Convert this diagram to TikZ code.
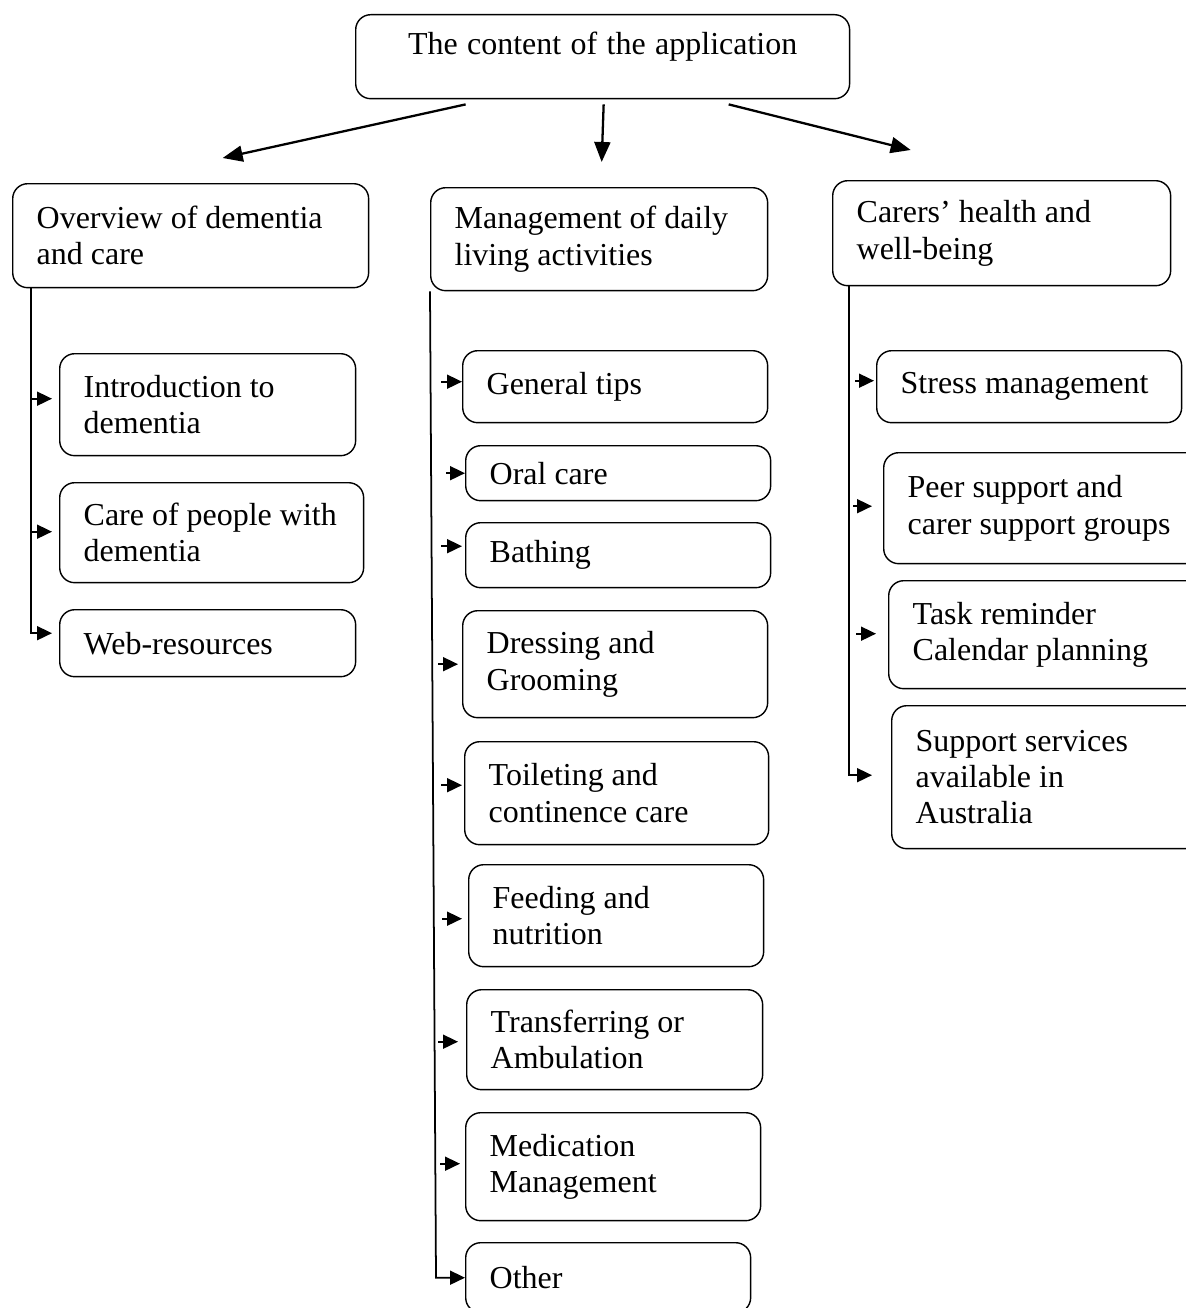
\documentclass[tikz,border=0pt]{standalone}
\usepackage{fontspec}
\setmainfont{Liberation Serif}
\usetikzlibrary{arrows.meta,calc}
\tikzset{
  box/.style={draw, rounded corners=0.3cm, anchor=north west, align=left, inner xsep=0.48cm, inner ysep=2pt, line width=0.8pt, font=\fontsize{18.2}{20.7}\selectfont, execute at begin node={\spaceskip=0.25em plus 0.1em minus 0.05em}},
  bigarrow/.style={line width=1.3pt, -{Triangle[length=0.4cm,width=0.32cm]}},
  tip/.style={line width=1pt, -{Triangle[length=0.3cm,width=0.28cm]}}
}
\begin{document}
\begin{tikzpicture}[x=0.02cm,y=-0.02cm]
\useasboundingbox (0,0) rectangle (1186,1308);
\clip (0,0) rectangle (1186,1308);
% top box
\node[box, align=center, text width=8.92cm, minimum height=1.68cm, text depth=0.54cm] (top) at (355,14) {The content of the application};
% the three parts
\node[box, text width=6.16cm, minimum height=2.08cm] (overview) at (12,183) {Overview of dementia\\and care};
\node[box, text width=5.78cm, minimum height=2.06cm] (mgmt) at (430,187) {Management of daily\\living activities};
\node[box, text width=5.80cm, minimum height=2.10cm] (carers) at (832,180) {Carers' health and\\well-being};
\draw[bigarrow] ($(top.south)+(-137,5)$) -- ($(overview.north)+(32,-25)$);
\draw[bigarrow] ($(top.south)+(1,5)$) -- ($(mgmt.north)+(2.5,-25)$);
\draw[bigarrow] ($(top.south)+(126,5)$) -- ($(carers.north)+(-91,-30)$);
% left column
\node[box, text width=4.96cm, minimum height=2.04cm] (intro) at (59,353) {Introduction to\\dementia};
\node[box, text width=5.12cm, minimum height=2.00cm] (care) at (59,482) {Care of people with\\dementia};
\node[box, text width=4.96cm, minimum height=1.34cm] (web) at (59,609) {Web-resources};
\draw[tip] ($(overview.south west)+(19,0)$) |- ($(web.west)+(-7,-10)$);
\draw[tip] ($(intro.west)+(-28,-6)$) -- ($(intro.west)+(-7,-6)$);
\draw[tip] ($(care.west)+(-28,-1)$) -- ($(care.west)+(-7,-1)$);
% middle column
\node[box, text width=5.14cm, minimum height=1.44cm] (gtips) at (462,350) {General tips};
\node[box, text width=5.14cm, minimum height=1.10cm] (oral) at (465,445) {Oral care};
\node[box, text width=5.14cm, minimum height=1.30cm] (bath) at (465,522) {Bathing};
\node[box, text width=5.14cm, minimum height=2.14cm] (dress) at (462,610) {Dressing and\\Grooming};
\node[box, text width=5.12cm, minimum height=2.06cm] (toilet) at (464,741) {Toileting and\\continence care};
\node[box, text width=4.94cm, minimum height=2.04cm] (feed) at (468,864) {Feeding and\\nutrition};
\node[box, text width=4.96cm, minimum height=2.00cm] (trans) at (466,989) {Transferring or\\Ambulation};
\node[box, text width=4.94cm, minimum height=2.16cm] (med) at (465,1112) {Medication\\Management};
\node[box, text width=4.74cm, minimum height=1.40cm] (other) at (465,1242) {Other};
\draw[tip] (mgmt.south west) -- ($(other.west)+(-29,0)$) -- (other.west);
\draw[tip] ($(gtips.west)+(-21,-5)$) -- ($(gtips.west)+(0,-5)$);
\draw[tip] ($(oral.west)+(-19,0)$) -- (oral.west);
\draw[tip] ($(bath.west)+(-24,-9)$) -- ($(bath.west)+(-3,-9)$);
\draw[tip] ($(dress.west)+(-24,0)$) -- ($(dress.west)+(-4,0)$);
\draw[tip] ($(toilet.west)+(-23,-8)$) -- ($(toilet.west)+(-2,-8)$);
\draw[tip] ($(feed.west)+(-26,3)$) -- ($(feed.west)+(-6,3)$);
\draw[tip] ($(trans.west)+(-28,2)$) -- ($(trans.west)+(-8,2)$);
\draw[tip] ($(med.west)+(-25,-3)$) -- ($(med.west)+(-5,-3)$);
% right column
\node[box, text width=5.14cm, minimum height=1.44cm] (stress) at (876,350) {Stress management};
\node[box, text width=5.44cm, minimum height=2.22cm] (peer) at (883,452) {Peer support and\\carer support groups};
\node[box, text width=5.44cm, minimum height=2.16cm] (task) at (888,580) {Task reminder\\Calendar planning};
\node[box, text width=5.44cm, minimum height=2.86cm] (support) at (891,705) {Support services\\available in\\Australia};
\draw[tip] ($(carers.south west)+(17,0)$) |- ($(support.west)+(-19,-2)$);
\draw[tip] ($(stress.west)+(-21,-6)$) -- ($(stress.west)+(-2,-6)$);
\draw[tip] ($(peer.west)+(-30,-2)$) -- ($(peer.west)+(-11,-2)$);
\draw[tip] ($(task.west)+(-32,-1)$) -- ($(task.west)+(-12,-1)$);
\end{tikzpicture}
\end{document}
